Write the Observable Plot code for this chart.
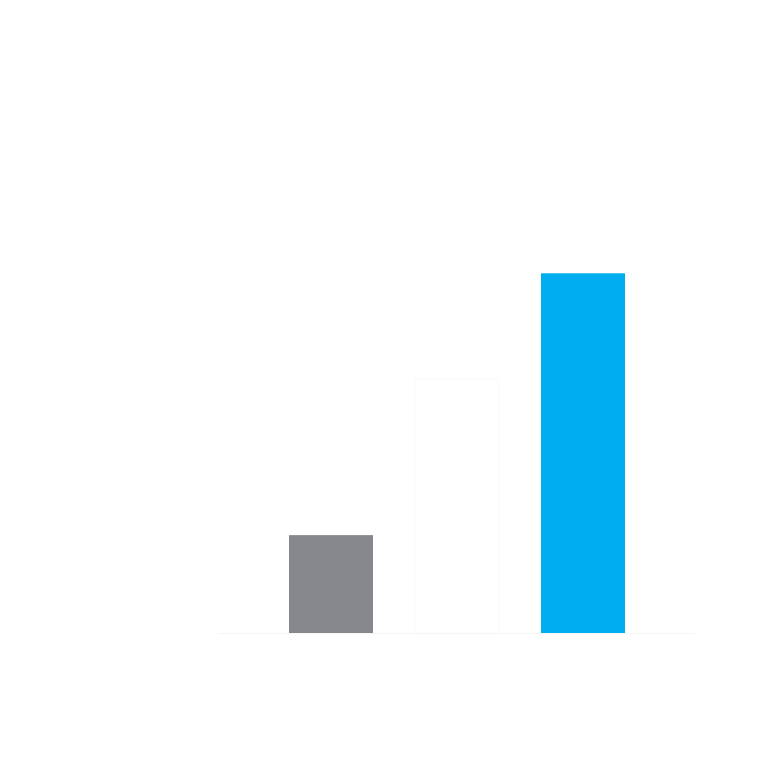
<!DOCTYPE html>
<html>
<head>
<meta charset="utf-8">
<script src="https://cdn.jsdelivr.net/npm/d3@7"></script>
<script src="https://cdn.jsdelivr.net/npm/@observablehq/plot@0.6"></script>
<style>
  html, body { margin: 0; padding: 0; background: #ffffff; }
  #chart svg { display: block; }
</style>
</head>
<body>
<div id="chart"></div>
<script>
const categories = ["CBM", "Actual", "Estimated"];
const values = [38.5, 100, 141.5];
const barColors = ["#86878a", "#ffffff", "#00aeef"];
const barStrokes = ["none", "#f9f9f9", "none"];
const yTicks = [0, 20, 40, 60, 80, 100, 120, 140, 160, 180];
const titleText = ["Productivity"];
const yLabel = "Volume";

const data = categories.map((c, i) => ({category: c, value: values[i], color: barColors[i], edge: barStrokes[i]}));

const chart = Plot.plot({
  width: 762,
  height: 762,
  marginTop: 150,
  marginBottom: 129,
  marginLeft: 218,
  marginRight: 67,
  style: {background: "#ffffff", color: "#ffffff", fontFamily: "Liberation Sans, Arial, sans-serif", fontSize: "20px"},
  x: {domain: categories, paddingInner: 0.336, paddingOuter: 0.553, label: null},
  y: {domain: [0, 190], ticks: yTicks, label: null},
  marks: [
    Plot.barY(data, {x: "category", y: "value", fill: "color", stroke: "edge"}),
    Plot.ruleY([0], {stroke: "#f5f5f5"}),
    Plot.axisY({ticks: yTicks, tickSize: 0, tickPadding: 18, fill: "#ffffff", fontSize: 20, label: null}),
    Plot.axisX({tickSize: 0, tickPadding: 14, fill: "#ffffff", fontSize: 20, label: null}),
    Plot.text(titleText, {frameAnchor: "top", dx: 26, dy: -22, fill: "#ffffff", fontSize: 32, fontWeight: "bold"}),
    Plot.text([yLabel], {frameAnchor: "left", dx: -95, dy: 40, rotate: -90, fill: "#ffffff", fontSize: 22, fontWeight: "bold"})
  ]
});
document.getElementById("chart").appendChild(chart);
</script>
</body>
</html>
